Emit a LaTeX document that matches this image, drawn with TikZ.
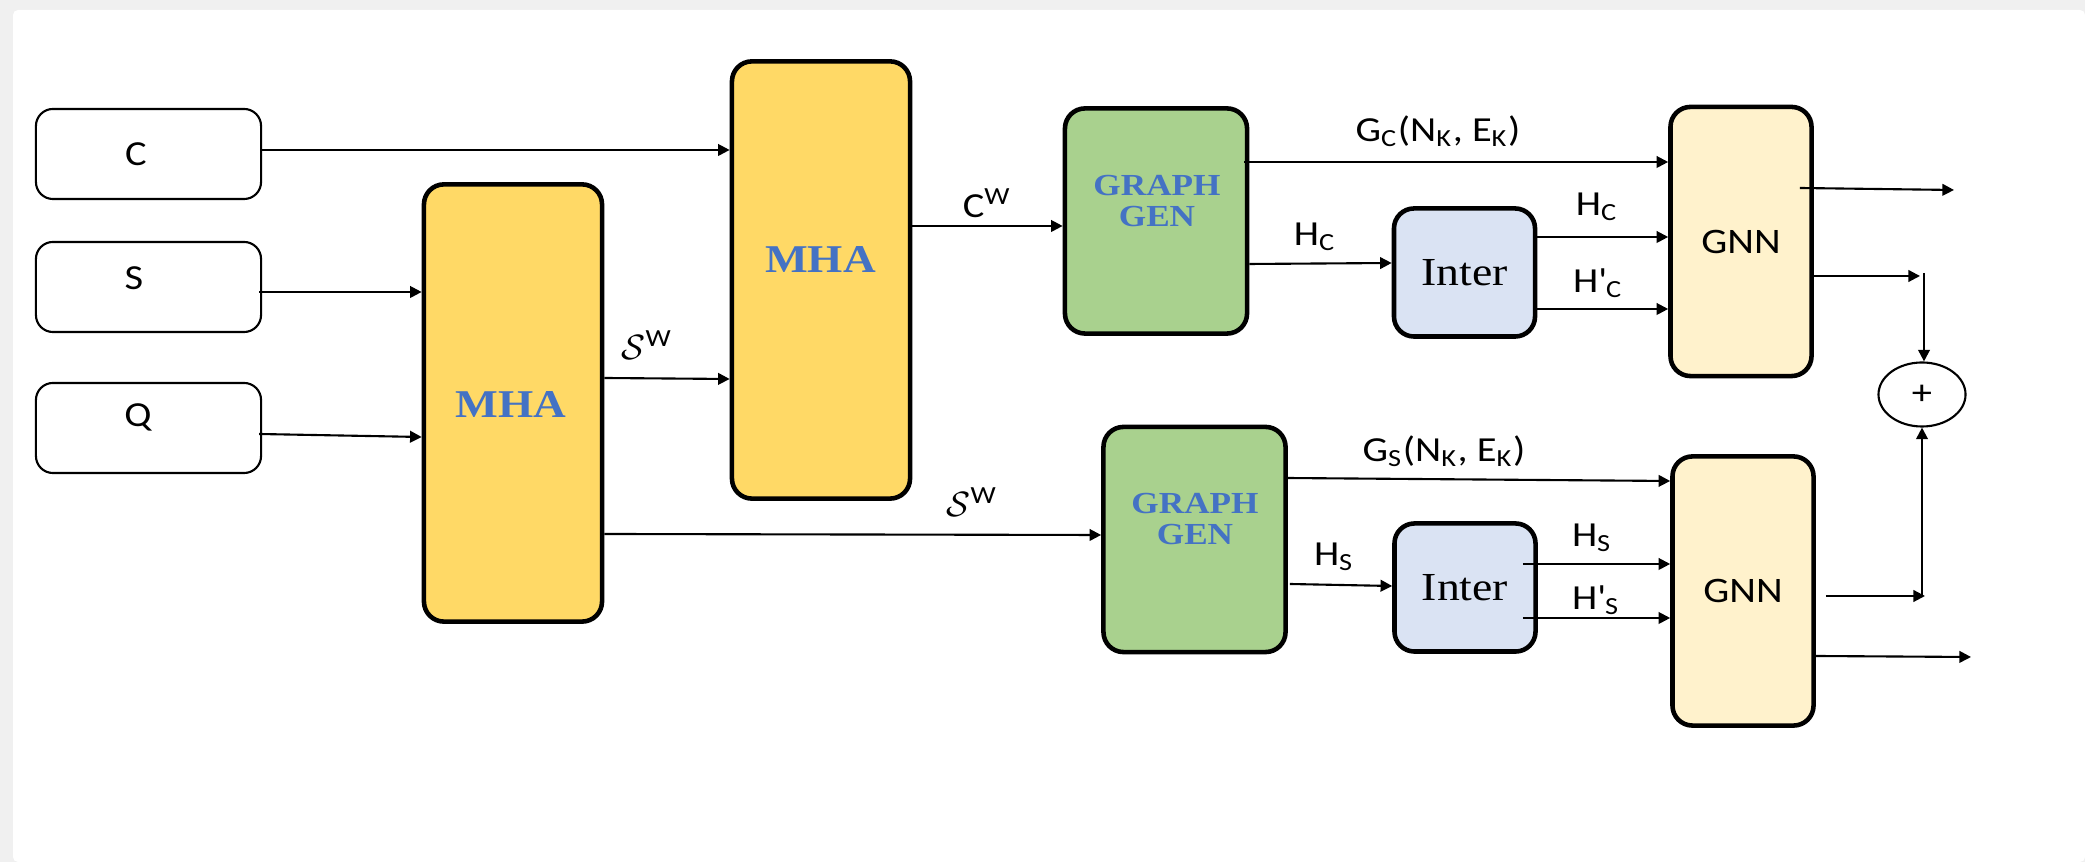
\documentclass[tikz,border=0pt]{standalone}
\usepackage{fontspec}
\setmainfont{Carlito}[FakeStretch=1.15]
\newfontfamily\tnr{Liberation Serif}[FakeStretch=1.15]
\usetikzlibrary{arrows.meta,shapes.geometric,calc}
\definecolor{mhay}{HTML}{FFD966}
\definecolor{ggg}{HTML}{A9D18E}
\definecolor{intb}{HTML}{DAE3F3}
\definecolor{gnny}{HTML}{FFF2CC}
\definecolor{tblue}{HTML}{4472C4}
\definecolor{framegray}{HTML}{F0F0F0}
\begin{document}
\begin{tikzpicture}[x=0.01cm,y=-0.01cm,
  inbox/.style={draw, line width=0.6pt, rounded corners=0.17cm, minimum width=2.25cm, minimum height=0.9cm, inner sep=0pt},
  fat/.style={draw, line width=1.3pt, rounded corners=0.2cm, inner sep=0pt},
  mhabox/.style={fat, fill=mhay, minimum width=1.78cm, minimum height=4.37cm},
  ggbox/.style={fat, fill=ggg, minimum width=1.82cm, minimum height=2.25cm},
  intbox/.style={fat, fill=intb, minimum width=1.41cm, minimum height=1.28cm, font=\tnr\fontsize{11.3}{13}\selectfont},
  gnnbox/.style={fat, fill=gnny, minimum width=1.41cm, minimum height=2.69cm, font=\fontsize{10.2}{12}\selectfont},
  bluetxt/.style={text=tblue, font=\tnr\bfseries\fontsize{11.2}{13}\selectfont, inner sep=0pt},
  ggtxt/.style={text=tblue, font=\tnr\bfseries\fontsize{8.7}{8.9}\selectfont, align=center, inner sep=0pt},
  intxt/.style={font=\fontsize{10}{12}\selectfont, inner sep=0pt},
  lbl/.style={font=\fontsize{10}{12}\selectfont, inner sep=0pt},
  arr/.style={-{Triangle[length=3.3pt,width=3.3pt]}, line width=0.6pt},
  plusnode/.style={ellipse, draw, line width=0.6pt, minimum width=0.87cm, minimum height=0.64cm, inner sep=0pt, font=\fontsize{10}{12}\selectfont}
]
\useasboundingbox (0,0) rectangle (2085,862);
\fill[framegray] (0,0) rectangle (2085,862);
\fill[white, rounded corners=0.05cm] (13,10) rectangle (2085,862);

% input boxes
\node[inbox] (C) at (148.5,154) {};
\node[intxt] (Ct) at (136,154) {C};
\node[inbox] (S) at (148.5,287) {};
\node[intxt] (St) at (134,278) {S};
\node[inbox] (Q) at (148.5,428) {};
\node[intxt] (Qt) at (138,417) {Q};

% MHA blocks
\node[mhabox] (M1) at (513,403) {};
\node[bluetxt] (M1t) at (511,405) {MHA};
\node[mhabox] (M2) at (821,280) {};
\node[bluetxt] (M2t) at (820.5,260) {MHA};

% graph gen
\node[ggbox] (G1) at (1156,221) {};
\node[ggtxt] (G1t) at (1157,201) {GRAPH\\GEN};
\node[ggbox] (G2) at (1194.5,539.5) {};
\node[ggtxt] (G2t) at (1195,519) {GRAPH\\GEN};

% inter
\node[intbox] (I1) at (1464.5,272.5) {Inter};
\node[intbox] (I2) at (1465,587.5) {Inter};

% GNN
\node[gnnbox] (N1) at (1741,241.5) {GNN};
\node[gnnbox] (N2) at (1743,591) {GNN};

% plus
\node[plusnode] (P) at (1922,394.5) {+};

% free ends
\coordinate (o1) at (1954,190);
\coordinate (o2) at (1971,657);
\coordinate (k1) at (1920,276);
\coordinate (k1v) at (1924,273);
\coordinate (k2) at (1925,596);
\coordinate (k2v) at (1922,596);

% connectors
\draw[arr] (C.east |- 0,150) -- (M2.west |- 0,150);
\draw[arr] ($(S.east |- 0,292)+(-3,0)$) -- (M1.west |- 0,292);
\draw[arr] ($(Q.east |- 0,434)+(-3,0)$) -- (M1.west |- 0,437);
\draw[arr] (M1.east |- 0,378) -- (M2.west |- 0,379);
\node[lbl] (sw1) at (647,345) {$\mathcal{S}$\textsuperscript{W}};
\draw[arr] (M1.east |- 0,534) -- (G2.west |- 0,535);
\node[lbl] (sw2) at (972,502) {$\mathcal{S}$\textsuperscript{W}};
\draw[arr] (M2.east |- 0,226) -- (G1.west |- 0,226);
\node[lbl] (cw) at (987,203) {C\textsuperscript{W}};

\draw[arr] ($(G1.east |- 0,162)+(-5,0)$) -- (N1.west |- 0,162);
\node[lbl] (gc) at (1438,131) {G\textsubscript{C}(N\textsubscript{K}, E\textsubscript{K})};
\draw[arr] (G1.east |- 0,264) -- (I1.west |- 0,263);
\node[lbl] (hc1) at (1315,237) {H\textsubscript{C}};
\draw[arr] (I1.east |- 0,237) -- (N1.west |- 0,237);
\node[lbl] (hc2) at (1597,207) {H\textsubscript{C}};
\draw[arr] (I1.east |- 0,309) -- (N1.west |- 0,309);
\node[lbl] (hc3) at (1598,283) {H\textquotesingle\textsubscript{C}};

\draw[arr] ($(N1.east |- 0,188)+(-14,0)$) -- (o1);
\draw[arr] (N1.east |- 0,276) -- (k1);
\draw[arr] (k1v) -- (k1v |- P.north);

\draw[arr] ($(G2.east |- 0,478)+(-2,0)$) -- (N2.west |- 0,481);
\node[lbl] (gs) at (1444,451) {G\textsubscript{S}(N\textsubscript{K}, E\textsubscript{K})};
\draw[arr] ($(G2.east |- 0,584)+(2,0)$) -- (I2.west |- 0,586);
\node[lbl] (hs1) at (1334,557) {H\textsubscript{S}};
\draw[arr] ($(I2.east |- 0,564)+(-15,0)$) -- (N2.west |- 0,564);
\node[lbl] (hs2) at (1592,538) {H\textsubscript{S}};
\draw[arr] ($(I2.east |- 0,618)+(-15,0)$) -- (N2.west |- 0,618);
\node[lbl] (hs3) at (1596,600) {H\textquotesingle\textsubscript{S}};

\draw[arr] ($(N2.east |- 0,596)+(10,0)$) -- (k2);
\draw[arr] (k2v) -- (P.south);
\draw[arr] (N2.east |- 0,656) -- (o2);
\end{tikzpicture}
\end{document}
